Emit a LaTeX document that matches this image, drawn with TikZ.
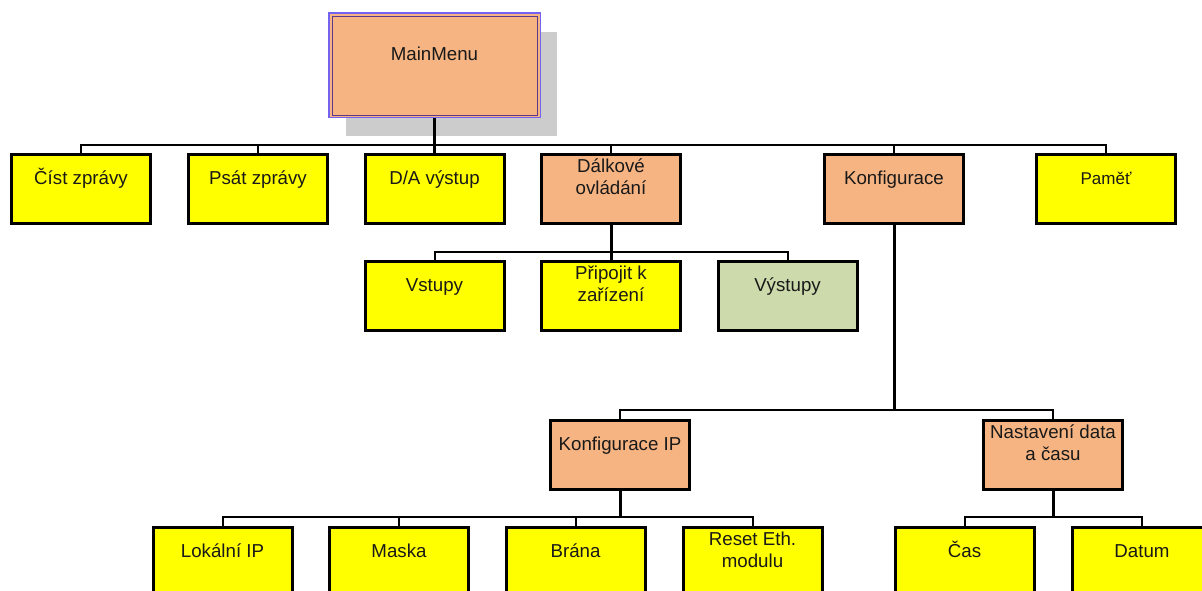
\documentclass[tikz,border=0pt]{standalone}
\usepackage{fontspec}
\setmainfont{Liberation Sans}
\usetikzlibrary{shadows}
\definecolor{peach}{RGB}{246,180,130}
\definecolor{lemon}{RGB}{255,255,0}
\definecolor{sage}{RGB}{204,218,172}
\definecolor{rimblue}{RGB}{118,98,240}
\definecolor{rimdark}{RGB}{92,56,140}
\begin{document}
\begin{tikzpicture}[x=1pt,y=-1pt,
  every node/.style={font=\fontsize{18.7}{22}\selectfont, inner sep=0pt, align=center, text=black!90},
  box/.style={draw=black, line width=3pt, minimum width=139pt, minimum height=69pt},
  one/.style={text height=29.5pt, text depth=39.5pt},
  two/.style={text height=39.5pt, text depth=29.5pt},
  leaf/.style={box, fill=lemon},
  menu/.style={box, fill=peach},
  link/.style={line width=2pt},
  trunk/.style={line width=3pt}]
\useasboundingbox (0,0) rectangle (1202,590);
\clip (0,0) rectangle (1202,590);

% root menu with its drop shadow and double rim
\node[draw=rimblue, line width=1.5pt, fill=peach, minimum width=211.5pt, minimum height=104.5pt,
      text height=47.5pt, text depth=57pt,
      drop shadow={shadow xshift=17pt, shadow yshift=-19pt, fill=black!20, opacity=1}]
      (main) at (434.5,65) {MainMenu};
\draw[rimdark, line width=1pt] ([shift={(4,4)}]main.north west) rectangle ([shift={(-4,-3)}]main.south east);

% first level
\node[leaf,one] (cist)  at (81,189)   {Číst zprávy};
\node[leaf,one] (psat)  at (258,189)  {Psát zprávy};
\node[leaf,one] (da)    at (434.5,189) {D/A výstup};
\node[menu,two] (dalk)  at (611,189)  {Dálkové\\ovládání};
\node[menu,one] (konf)  at (894,189)  {Konfigurace};
\node[leaf,one,font=\fontsize{17}{20}\selectfont] (pamet) at (1106,189) {Paměť};

% remote control submenu
\node[leaf,one] (vst)   at (434.5,296) {Vstupy};
\node[leaf,two] (prip)  at (611,296)  {Připojit k\\zařízení};
\node[box,one,fill=sage] (vyst) at (787.5,296) {Výstupy};

% configuration submenu
\node[menu,one] (kip)   at (620,455)  {Konfigurace IP};
\node[menu,two] (nast)  at (1053,455) {Nastavení data\\a času};

% IP settings
\node[leaf,one] (lok)   at (222.5,562) {Lokální IP};
\node[leaf,one] (mask)  at (399,562)  {Maska};
\node[leaf,one] (bran)  at (575.5,562) {Brána};
\node[leaf,two] (reset) at (752.5,562) {Reset Eth.\\modulu};

% date and time
\node[leaf,one] (cas)   at (964.5,562) {Čas};
\node[leaf,one] (dat)   at (1142,562) {Datum};

% branch points
\coordinate (mbar) at (434.5,145);
\coordinate (dbar) at (611,252);
\coordinate (kbar) at (894,410);
\coordinate (ibar) at (620,517);
\coordinate (nbar) at (1053,517);

% connectors from the root
\foreach \c in {cist,psat,dalk,konf,pamet} \draw[link] (mbar) -| (\c.north);
\draw[trunk] (main.south) -- (da.north);

% connectors of the remote control menu
\foreach \c in {vst,vyst} \draw[link] (dbar) -| (\c.north);
\draw[trunk] (dalk.south) -- (prip.north);

% connectors of the configuration menu
\draw[trunk] (konf.south) -- (kbar);
\foreach \c in {kip,nast} \draw[link] (kbar) -| (\c.north);

% connectors of the IP menu
\draw[trunk] (kip.south) -- (ibar);
\foreach \c in {lok,mask,bran,reset} \draw[link] (ibar) -| (\c.north);

% connectors of the date and time menu
\draw[trunk] (nast.south) -- (nbar);
\foreach \c in {cas,dat} \draw[link] (nbar) -| (\c.north);
\end{tikzpicture}
\end{document}
